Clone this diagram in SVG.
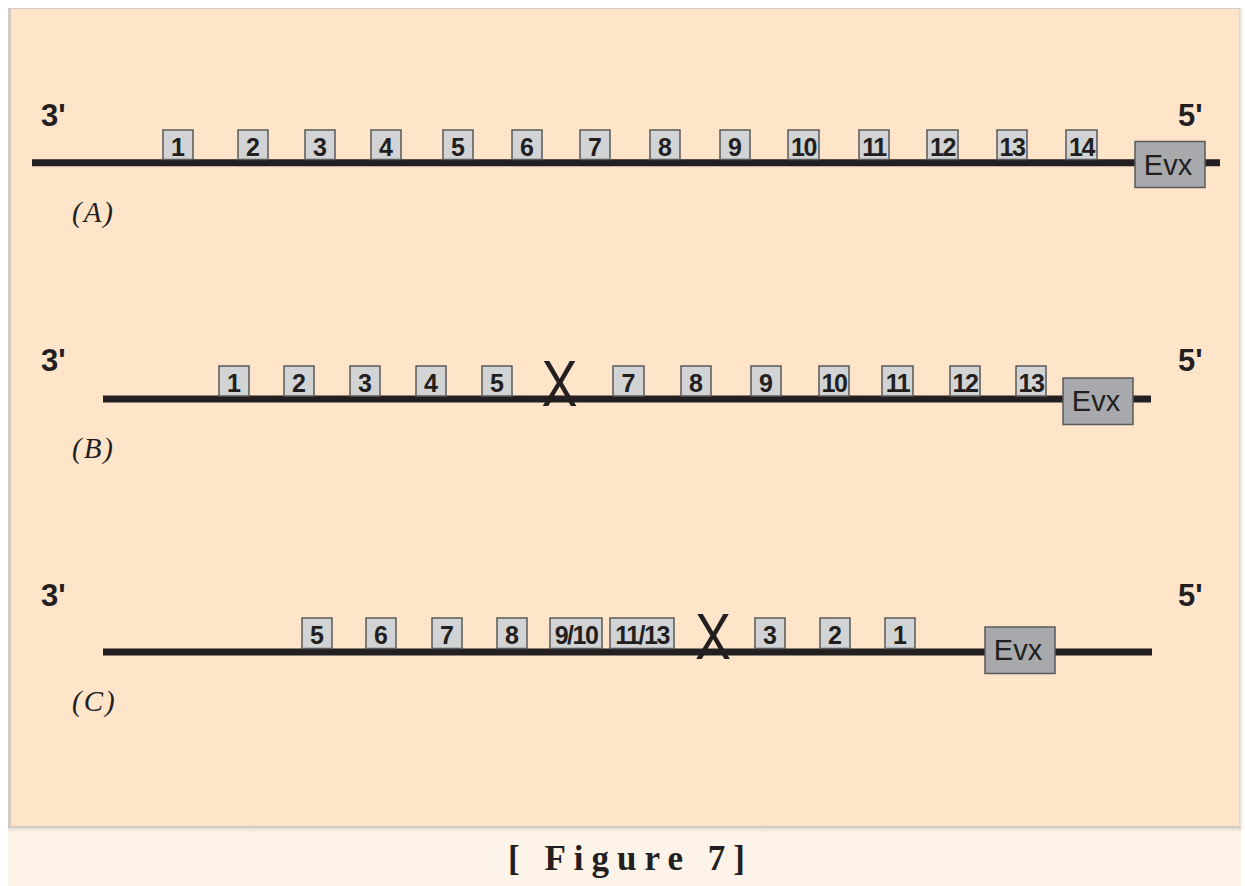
<svg xmlns="http://www.w3.org/2000/svg" width="1245" height="886" viewBox="0 0 1245 886">
<defs>
<linearGradient id="shadowB" x1="0" y1="0" x2="0" y2="1">
<stop offset="0" stop-color="#c9c2ba"/>
<stop offset="1" stop-color="#fdf3e8" stop-opacity="0"/>
</linearGradient>
<linearGradient id="shadowR" x1="0" y1="0" x2="1" y2="0">
<stop offset="0" stop-color="#d6d0ca"/>
<stop offset="1" stop-color="#ffffff" stop-opacity="0"/>
</linearGradient>
</defs>
<style>
.strand{stroke:#231f20;stroke-width:7;fill:none}
.box{fill:#d1d3d4;stroke:#58595b;stroke-width:1.5}
.evx{fill:#a7a9ac;stroke:#58595b;stroke-width:1.5}
.num{font-family:"Liberation Sans",Arial,sans-serif;font-weight:bold;font-size:25px;fill:#231f20;text-anchor:middle}
.evxt{font-family:"Liberation Sans",Arial,sans-serif;font-size:29px;fill:#231f20;text-anchor:middle}
.end{font-family:"Liberation Sans",Arial,sans-serif;font-weight:bold;font-size:31px;fill:#231f20}
.lab{font-family:"Liberation Serif","Times New Roman",serif;font-style:italic;font-size:29px;fill:#231f20;letter-spacing:2px}
.x{font-family:"Liberation Sans",Arial,sans-serif;font-size:64px;fill:#231f20;text-anchor:middle}
.cap{font-family:"Liberation Serif","Times New Roman",serif;font-weight:bold;font-size:35px;fill:#231f20}
</style>
<rect x="0" y="0" width="1245" height="886" fill="#ffffff"/>
<rect x="8" y="826" width="1233" height="60" fill="#fdf3e8"/>
<rect x="8" y="826" width="1233" height="8" fill="url(#shadowB)"/>
<rect x="1239" y="8" width="6" height="822" fill="url(#shadowR)"/>
<rect x="8" y="8" width="1231" height="818" fill="#d4cdc6"/>
<rect x="11" y="9" width="1228" height="817" fill="#fee5ca"/>

<g id="strands">
<line class="strand" x1="32" y1="162.8" x2="1220" y2="162.8"/>
<line class="strand" x1="103" y1="399" x2="1151" y2="399"/>
<line class="strand" x1="103" y1="652" x2="1152" y2="652"/>
</g>

<g id="rowA">
<text class="end" x="41" y="125.5">3'</text>
<text class="end" x="1178" y="125.5">5'</text>
<text class="lab" x="72" y="222">(A)</text>
<g id="A1"><rect class="box" x="163" y="130" width="30" height="29.5"/><text class="num" x="178" y="155.5">1</text></g>
<g id="A2"><rect class="box" x="238" y="130" width="30" height="29.5"/><text class="num" x="253" y="155.5">2</text></g>
<g id="A3"><rect class="box" x="305" y="130" width="30" height="29.5"/><text class="num" x="320" y="155.5">3</text></g>
<g id="A4"><rect class="box" x="371" y="130" width="30" height="29.5"/><text class="num" x="386" y="155.5">4</text></g>
<g id="A5"><rect class="box" x="443" y="130" width="30" height="29.5"/><text class="num" x="458" y="155.5">5</text></g>
<g id="A6"><rect class="box" x="512" y="130" width="30" height="29.5"/><text class="num" x="527" y="155.5">6</text></g>
<g id="A7"><rect class="box" x="580" y="130" width="30" height="29.5"/><text class="num" x="595" y="155.5">7</text></g>
<g id="A8"><rect class="box" x="650" y="130" width="30" height="29.5"/><text class="num" x="665" y="155.5">8</text></g>
<g id="A9"><rect class="box" x="720" y="130" width="30" height="29.5"/><text class="num" x="735" y="155.5">9</text></g>
<g id="A10"><rect class="box" x="788" y="130" width="31" height="29.5"/><text class="num" x="803.5" y="155.5" letter-spacing="-1.5">10</text></g>
<g id="A11"><rect class="box" x="859" y="130" width="30" height="29.5"/><text class="num" x="874" y="155.5" letter-spacing="-1.5">11</text></g>
<g id="A12"><rect class="box" x="927" y="130" width="31" height="29.5"/><text class="num" x="942.5" y="155.5" letter-spacing="-1.5">12</text></g>
<g id="A13"><rect class="box" x="997" y="130" width="30" height="29.5"/><text class="num" x="1012" y="155.5" letter-spacing="-1.5">13</text></g>
<g id="A14"><rect class="box" x="1066" y="130" width="31" height="29.5"/><text class="num" x="1081.5" y="155.5" letter-spacing="-1.5">14</text></g>
<g id="AEvx"><rect class="evx" x="1135" y="141.5" width="70" height="46"/><text class="evxt" x="1168" y="174.5">Evx</text></g>
</g>

<g id="rowB">
<text class="end" x="41" y="371">3'</text>
<text class="end" x="1178" y="371">5'</text>
<text class="lab" x="72" y="458">(B)</text>
<g id="B1"><rect class="box" x="219" y="366" width="30" height="30"/><text class="num" x="234" y="391.5">1</text></g>
<g id="B2"><rect class="box" x="284" y="366" width="30" height="30"/><text class="num" x="299" y="391.5">2</text></g>
<g id="B3"><rect class="box" x="350" y="366" width="30" height="30"/><text class="num" x="365" y="391.5">3</text></g>
<g id="B4"><rect class="box" x="416" y="366" width="30" height="30"/><text class="num" x="431" y="391.5">4</text></g>
<g id="B5"><rect class="box" x="482" y="366" width="30" height="30"/><text class="num" x="497" y="391.5">5</text></g>
<g id="BX"><text class="x" x="559.5" y="406" textLength="36" lengthAdjust="spacingAndGlyphs">X</text></g>
<g id="B7"><rect class="box" x="613" y="366" width="31" height="30"/><text class="num" x="628.5" y="391.5">7</text></g>
<g id="B8"><rect class="box" x="681" y="366" width="30" height="30"/><text class="num" x="696" y="391.5">8</text></g>
<g id="B9"><rect class="box" x="751" y="366" width="30" height="30"/><text class="num" x="766" y="391.5">9</text></g>
<g id="B10"><rect class="box" x="819" y="366" width="30" height="30"/><text class="num" x="834" y="391.5" letter-spacing="-1.5">10</text></g>
<g id="B11"><rect class="box" x="882" y="366" width="31" height="30"/><text class="num" x="897.5" y="391.5" letter-spacing="-1.5">11</text></g>
<g id="B12"><rect class="box" x="950" y="366" width="30" height="30"/><text class="num" x="965" y="391.5" letter-spacing="-1.5">12</text></g>
<g id="B13"><rect class="box" x="1016" y="366" width="30" height="30"/><text class="num" x="1031" y="391.5" letter-spacing="-1.5">13</text></g>
<g id="BEvx"><rect class="evx" x="1063" y="378" width="70" height="46.5"/><text class="evxt" x="1096" y="411">Evx</text></g>
</g>

<g id="rowC">
<text class="end" x="41" y="606">3'</text>
<text class="end" x="1178" y="606">5'</text>
<text class="lab" x="72" y="711">(C)</text>
<g id="C5"><rect class="box" x="302" y="618" width="30" height="30.5"/><text class="num" x="317" y="644">5</text></g>
<g id="C6"><rect class="box" x="366" y="618" width="30" height="30.5"/><text class="num" x="381" y="644">6</text></g>
<g id="C7"><rect class="box" x="432" y="618" width="30" height="30.5"/><text class="num" x="447" y="644">7</text></g>
<g id="C8"><rect class="box" x="497" y="618" width="30" height="30.5"/><text class="num" x="512" y="644">8</text></g>
<g id="C910"><rect class="box" x="550" y="618" width="52" height="30.5"/><text class="num" x="576" y="644" letter-spacing="-1.5">9/10</text></g>
<g id="C1113"><rect class="box" x="610" y="618" width="64" height="30.5"/><text class="num" x="642" y="644" letter-spacing="-1.5">11/13</text></g>
<g id="CX"><text class="x" x="713" y="659" textLength="36" lengthAdjust="spacingAndGlyphs">X</text></g>
<g id="C3"><rect class="box" x="755" y="618" width="30" height="30.5"/><text class="num" x="770" y="644">3</text></g>
<g id="C2"><rect class="box" x="820" y="618" width="30" height="30.5"/><text class="num" x="835" y="644">2</text></g>
<g id="C1"><rect class="box" x="885" y="618" width="30" height="30.5"/><text class="num" x="900" y="644">1</text></g>
<g id="CEvx"><rect class="evx" x="985" y="627" width="70" height="46.5"/><text class="evxt" x="1018" y="660">Evx</text></g>
</g>

<text class="cap" x="508" y="870" textLength="237" lengthAdjust="spacing">[ Figure 7]</text>
</svg>
